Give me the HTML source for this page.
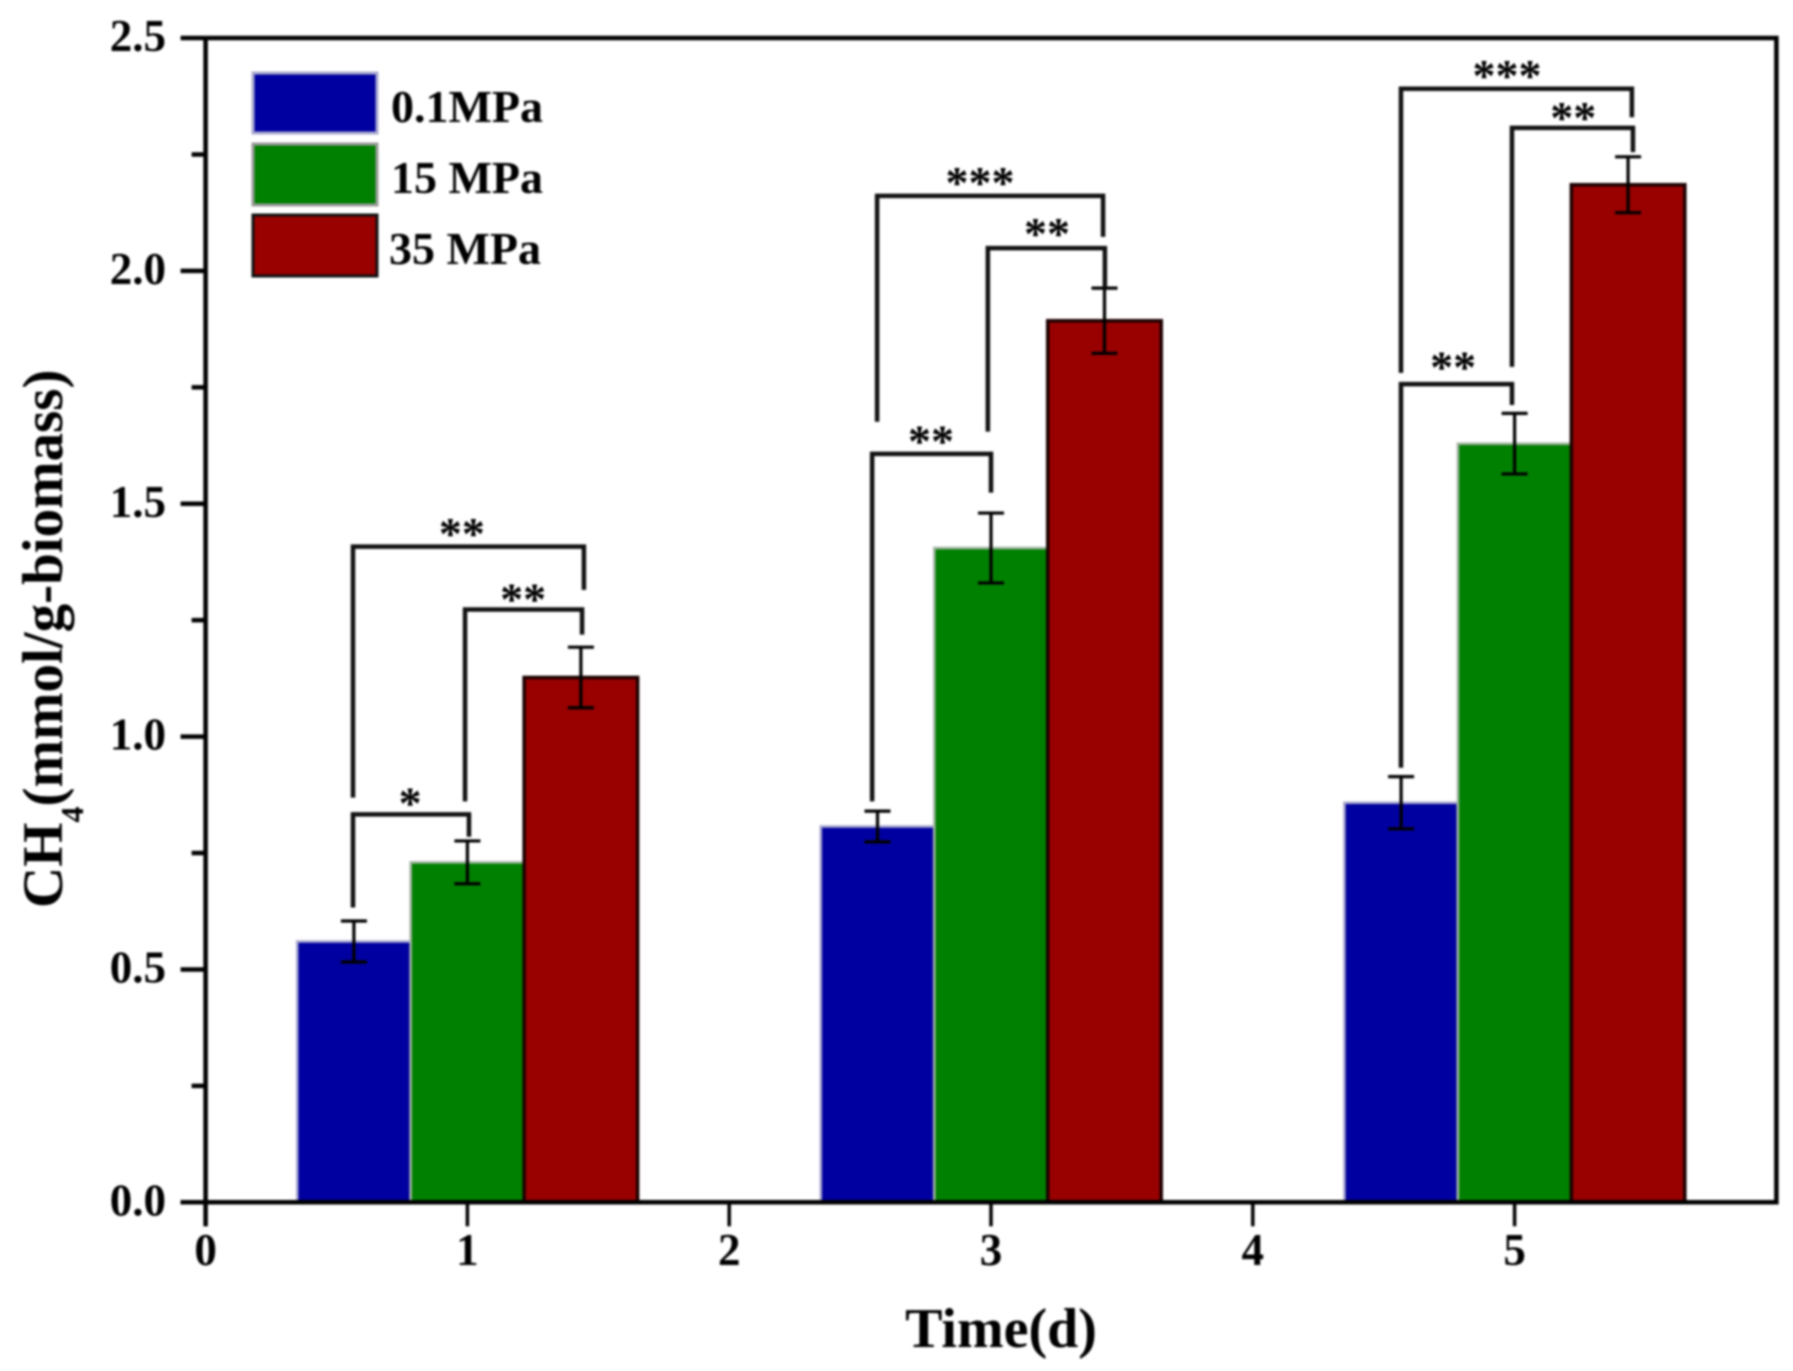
<!DOCTYPE html>
<html lang="en">
<head>
<meta charset="utf-8">
<title>CH4 production by pressure over time</title>
<style>
html,body{margin:0;padding:0;background:#fff;}
svg{display:block;filter:blur(1px);}
text{font-family:"Liberation Serif",serif;font-weight:bold;fill:#000;}
</style>
</head>
<body>
<svg id="chart" xmlns="http://www.w3.org/2000/svg" width="1793" height="1371" viewBox="0 0 1793 1371">
  <rect x="0" y="0" width="1793" height="1371" fill="#fff"/>
  <g id="bars"></g>
  <g id="errors"></g>
  <g id="brackets"></g>
  <g id="axes"></g>
  <g id="legend"></g>
  <text x="1001" y="1347" font-size="56" text-anchor="middle">Time(d)</text>
  <text transform="translate(62 908) rotate(-90)" font-size="57">CH<tspan font-size="32" dy="21">4</tspan><tspan dy="-21">(mmol/g-biomass)</tspan></text>
</svg>
<script>
// ---- chart data ----
const categories = [1, 3, 5];
const seriesNames = ['0.1MPa', '15 MPa', '35 MPa'];
const series0 = [0.56, 0.807, 0.858];
const series1 = [0.73, 1.405, 1.629];
const series2 = [1.127, 1.893, 2.185];
const errors0 = [0.044, 0.033, 0.056];
const errors1 = [0.046, 0.075, 0.065];
const errors2 = [0.065, 0.07, 0.06];
const xTickLabels = [0, 1, 2, 3, 4, 5];
const yTickLabels = ['0.0', '0.5', '1.0', '1.5', '2.0', '2.5'];
const yMinorTicks = [0.25, 0.75, 1.25, 1.75, 2.25];
// significance brackets, in axis units
const bracketStart = [0.563, 0.991, 0.563, 2.565, 2.988, 2.546, 4.566, 4.99, 4.566];
const bracketEnd = [1.445, 1.438, 1.006, 3.428, 3.435, 3.0, 5.448, 5.452, 4.99];
const bracketTop = [1.408, 1.273, 0.833, 2.161, 2.049, 1.607, 2.391, 2.307, 1.757];
const bracketStartLow = [0.869, 0.861, 0.633, 1.676, 1.655, 0.861, 1.781, 1.794, 0.933];
const bracketEndLow = [1.315, 1.219, 0.785, 2.073, 1.964, 1.524, 2.33, 2.255, 1.712];
const markLabels = ['**', '**', '*', '***', '**', '**', '***', '**', '**'];
const markX = [0.979, 1.213, 0.781, 2.958, 3.214, 2.771, 4.971, 5.224, 4.765];
const markY = [1.446, 1.305, 0.867, 2.2, 2.09, 1.644, 2.429, 2.339, 1.803];

// ---- scales and style ----
const X0 = 205.6, XU = 261.8, Y0 = 1202.3, YU = 465.7;
function xScale(v) { return X0 + XU * v; }
function yScale(v) { return Y0 - YU * v; }
const BAR_W = 0.4335;
const allValues = [series0, series1, series2];
const allErrors = [errors0, errors1, errors2];
const fills = ['#0000a0', '#008000', '#990000'];
const strokes = ['#a9a9cf', '#a5b5a5', '#1c0000'];
const strokeW = [2.5, 2.5, 3.5];
const NS = 'http://www.w3.org/2000/svg';

function mk(parent, tag, attrs, txt) {
  const el = document.createElementNS(NS, tag);
  for (const k in attrs) el.setAttribute(k, attrs[k]);
  if (txt !== undefined) el.textContent = txt;
  parent.appendChild(el);
  return el;
}

const gBars = document.getElementById('bars');
const gErr = document.getElementById('errors');
const gBr = document.getElementById('brackets');
const gAxes = document.getElementById('axes');
const gLeg = document.getElementById('legend');

// bars
allValues.forEach(function (vals, s) {
  vals.forEach(function (v, i) {
    const c = categories[i] + (s - 1) * BAR_W;
    const el = mk(gBars, 'rect', {
      x: xScale(c - BAR_W / 2), y: yScale(v),
      width: XU * BAR_W, height: yScale(0) - yScale(v),
      fill: fills[s], stroke: strokes[s], 'stroke-width': strokeW[s]
    });
    
    
  });
});

// error bars
allErrors.forEach(function (errs, s) {
  errs.forEach(function (e, i) {
    const c = xScale(categories[i] + (s - 1) * BAR_W);
    const hi = yScale(allValues[s][i] + e);
    const lo = yScale(allValues[s][i] - e);
    const el = mk(gErr, 'path', {
      d: 'M' + c + ' ' + hi + 'V' + lo + 'M' + (c - 13) + ' ' + hi + 'H' + (c + 13) + 'M' + (c - 13) + ' ' + lo + 'H' + (c + 13),
      fill: 'none', stroke: '#000', 'stroke-width': 3.2
    });
    
    
  });
});

// significance brackets
bracketStart.forEach(function (b, i) {
  const el = mk(gBr, 'path', {
    d: 'M' + xScale(b) + ' ' + yScale(bracketStartLow[i]) + 'V' + yScale(bracketTop[i]) +
       'H' + xScale(bracketEnd[i]) + 'V' + yScale(bracketEndLow[i]),
    fill: 'none', stroke: '#111', 'stroke-width': 4.5
  });
  
  
  const t = mk(gBr, 'text', {
    x: xScale(markX[i]), y: yScale(markY[i]) + 20,
    'font-size': 46, 'text-anchor': 'middle'
  }, markLabels[i]);
  
  
});

// axes frame
const frame = mk(gAxes, 'path', {
  d: 'M' + xScale(0) + ' ' + yScale(2.5) + 'H' + xScale(6) + 'V' + yScale(0) + 'H' + (xScale(0) - 25) +
     'M' + xScale(0) + ' ' + yScale(2.5) + 'V' + (yScale(0) + 24),
  fill: 'none', stroke: '#000', 'stroke-width': 4.5
});



// y ticks
yTickLabels.forEach(function (lab) {
  const v = parseFloat(lab);
  const tick = mk(gAxes, 'line', {
    x1: xScale(0) - 25, x2: xScale(0), y1: yScale(v), y2: yScale(v), stroke: '#000', 'stroke-width': 4.5
  });
  
  
  const t = mk(gAxes, 'text', { x: 166, y: yScale(v) + 13, 'font-size': 45, 'text-anchor': 'end' }, lab);
  
  
});
yMinorTicks.forEach(function (v) {
  const tick = mk(gAxes, 'line', {
    x1: xScale(0) - 14, x2: xScale(0), y1: yScale(v), y2: yScale(v), stroke: '#000', 'stroke-width': 4.5
  });
  
  
});

// x ticks
xTickLabels.forEach(function (v) {
  const tick = mk(gAxes, 'line', {
    x1: xScale(v), x2: xScale(v), y1: yScale(0), y2: yScale(0) + 24, stroke: '#000', 'stroke-width': 3.5
  });
  
  
  const t = mk(gAxes, 'text', { x: xScale(v), y: 1265, 'font-size': 45, 'text-anchor': 'middle' }, String(v));
  
  
});

// legend
seriesNames.forEach(function (name, s) {
  const swatch = mk(gLeg, 'rect', {
    x: 253, y: 73 + s * 71, width: 124, height: 60 + (s > 0 ? 1 : 0),
    fill: fills[s], stroke: s === 0 ? '#a9a9cf' : (s === 1 ? '#9a9a9a' : '#111'), 'stroke-width': 3
  });
  
  
  const t = mk(gLeg, 'text', { x: s === 2 ? 389 : 391, y: 122 + s * 71, 'font-size': 46 }, name);
  
  
});
</script>
</body>
</html>
